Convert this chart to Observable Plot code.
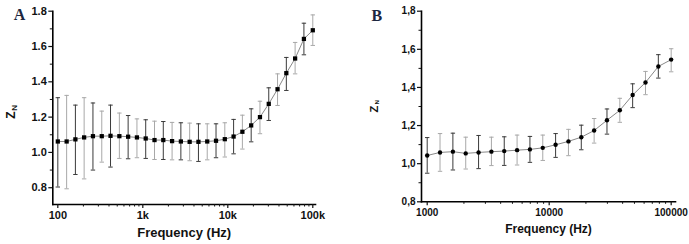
<!DOCTYPE html>
<html>
<head>
<meta charset="utf-8">
<script src="https://cdn.jsdelivr.net/npm/d3@7"></script>
<script src="https://cdn.jsdelivr.net/npm/@observablehq/plot@0.6"></script>
<style>
  html, body { margin: 0; padding: 0; background: #fff; }
  #wrap { display: flex; width: 689px; height: 244px; overflow: hidden; }
</style>
</head>
<body>
<div id="wrap"></div>
<script>
// ---- Panel A data ----
const freqA = [100, 127, 161, 204, 259, 329, 417, 530, 672, 853, 1082, 1373, 1742, 2210, 2804,
  3558, 4514, 5727, 7267, 9221, 11700, 14846, 18837, 23901, 30327, 38481, 48827, 61954, 78611, 100000];
const zA = [1.062, 1.062, 1.074, 1.085, 1.092, 1.092, 1.094, 1.092, 1.089, 1.085, 1.079, 1.070, 1.070,
  1.064, 1.062, 1.060, 1.060, 1.062, 1.066, 1.075, 1.090, 1.117, 1.153, 1.200, 1.275, 1.358, 1.449,
  1.532, 1.643, 1.692];
const hiA = [1.310, 1.323, 1.268, 1.310, 1.280, 1.234, 1.268, 1.223, 1.209, 1.190, 1.185, 1.177, 1.175,
  1.170, 1.168, 1.166, 1.162, 1.162, 1.162, 1.168, 1.187, 1.211, 1.247, 1.290, 1.366, 1.445, 1.538,
  1.623, 1.732, 1.779];
const loA = [0.804, 0.794, 0.875, 0.850, 0.900, 0.945, 0.917, 0.966, 0.964, 0.970, 0.966, 0.960, 0.960,
  0.958, 0.958, 0.953, 0.949, 0.958, 0.970, 0.974, 0.992, 1.019, 1.060, 1.106, 1.181, 1.266, 1.351,
  1.445, 1.553, 1.606];
const xTicksA = [100, 1000, 10000, 100000];
const xTickLabelsA = ["100", "1k", "10k", "100k"];
const yTicksA = [0.8, 1.0, 1.2, 1.4, 1.6, 1.8];
const yTickLabelsA = ["0.8", "1.0", "1.2", "1.4", "1.6", "1.8"];
const yMinorA = [0.9, 1.1, 1.3, 1.5, 1.7];

// ---- Panel B data ----
const freqB = [1000, 1274, 1624, 2069, 2637, 3360, 4281, 5456, 6952, 8859, 11288, 14384, 18330, 23357,
  29764, 37927, 48329, 61585, 78476, 100000];
const zB = [1.043, 1.059, 1.063, 1.054, 1.059, 1.063, 1.066, 1.071, 1.075, 1.083, 1.099, 1.117, 1.139,
  1.174, 1.228, 1.280, 1.360, 1.426, 1.510, 1.546];
const hiB = [1.137, 1.158, 1.160, 1.139, 1.148, 1.139, 1.141, 1.150, 1.143, 1.150, 1.158, 1.180, 1.202,
  1.237, 1.287, 1.343, 1.419, 1.484, 1.572, 1.603];
const loB = [0.950, 0.960, 0.967, 0.972, 0.974, 0.990, 0.991, 0.993, 1.007, 1.017, 1.033, 1.042, 1.073,
  1.108, 1.155, 1.217, 1.294, 1.362, 1.449, 1.482];
const xTicksB = [1000, 10000, 100000];
const xTickLabelsB = ["1000", "10000", "100000"];
const yTicksB = [0.8, 1.0, 1.2, 1.4, 1.6, 1.8];
const yTickLabelsB = ["0,8", "1,0", "1,2", "1,4", "1,6", "1,8"];
const yMinorB = [0.9, 1.1, 1.3, 1.5, 1.7];

const minorDecades = [2, 3, 4, 5, 6, 7, 8, 9];

const capSymbol = {
  draw(context) {
    context.moveTo(-2.2, 0);
    context.lineTo(2.2, 0);
  }
};

function makePanel(cfg) {
  const data = cfg.freq.map((f, i) => ({f, z: cfg.z[i], hi: cfg.hi[i], lo: cfg.lo[i], i}));
  const xMinor = [];
  for (const t of cfg.xTicks.slice(0, -1)) for (const m of minorDecades) xMinor.push(t * m);
  const xLab = new Map(cfg.xTicks.map((t, i) => [t, cfg.xLabels[i]]));
  const yLab = new Map(cfg.yTicks.map((t, i) => [t, cfg.yLabels[i]]));
  const barColor = d => d.i % 2 ? "#a8a8a8" : "#3a3a3a";
  return Plot.plot({
    width: cfg.width,
    height: 244,
    marginLeft: cfg.mL,
    marginRight: cfg.mR,
    marginTop: cfg.mT,
    marginBottom: cfg.mB,
    style: {fontFamily: "Liberation Sans, Arial, sans-serif", fontWeight: "bold", fontSize: cfg.fs + "px", color: "#111", background: "#fff"},
    x: {type: "log", domain: cfg.xDomain},
    y: {domain: cfg.yDomain},
    marks: [
      Plot.frame({anchor: "left", stroke: "#000", strokeWidth: 1.6}),
      Plot.frame({anchor: "bottom", stroke: "#000", strokeWidth: 1.6}),
      Plot.axisX({ticks: cfg.xTicks, tickSize: 4, tickPadding: 3, tickFormat: d => xLab.get(d), label: null, strokeWidth: 1.2}),
      Plot.axisX({ticks: xMinor, tickSize: 2.5, tickFormat: () => "", label: null}),
      Plot.axisY({ticks: cfg.yTicks, tickSize: 4, tickPadding: 2, tickFormat: d => yLab.get(d), label: null, strokeWidth: 1.2}),
      Plot.axisY({ticks: cfg.yMinor, tickSize: 2.5, tickFormat: () => "", label: null}),
      Plot.ruleX(data, {x: "f", y1: "lo", y2: "hi", stroke: barColor, strokeWidth: 1}),
      Plot.dot(data, {x: "f", y: "hi", symbol: capSymbol, stroke: barColor, fill: "none", strokeWidth: 1}),
      Plot.dot(data, {x: "f", y: "lo", symbol: capSymbol, stroke: barColor, fill: "none", strokeWidth: 1}),
      Plot.line(data, {x: "f", y: "z", stroke: "#7a7a7a", strokeWidth: 0.9}),
      Plot.dot(data, {x: "f", y: "z", symbol: cfg.symbol, r: cfg.r, fill: "#000", stroke: "none"}),
      Plot.text([cfg.xTitle], {frameAnchor: "bottom", dy: cfg.xTitleDy, fontSize: cfg.titleFs, fontWeight: "bold", fill: "#111"}),
      Plot.text(["Z"], {frameAnchor: "left", dx: cfg.zDx, dy: cfg.zDy, rotate: -90, fontSize: cfg.zFs, fontWeight: "bold", fill: "#111"}),
      Plot.text(["N"], {frameAnchor: "left", dx: cfg.nDx, dy: cfg.nDy, rotate: -90, fontSize: cfg.nFs, fontWeight: "bold", fill: "#111"}),
      Plot.text([cfg.letter], {frameAnchor: "top-left", dx: cfg.lDx, dy: cfg.lDy, fontSize: 16, fontWeight: "bold", fontFamily: "Liberation Serif, Times New Roman, serif", fill: "#1c2740"})
    ]
  });
}

const wrap = document.getElementById("wrap");
wrap.appendChild(makePanel({
  width: 345, mL: 52.3, mR: 30, mT: 10.7, mB: 40,
  freq: freqA, z: zA, hi: hiA, lo: loA,
  xTicks: xTicksA, xLabels: xTickLabelsA, yTicks: yTicksA, yLabels: yTickLabelsA, yMinor: yMinorA,
  xDomain: [87.3, 107600], yDomain: [0.705, 1.8],
  symbol: "square", r: 2.4, fs: 11,
  xTitle: "Frequency (Hz)", xTitleDy: 32.5, titleFs: 13,
  zDx: -42, zDy: 11, zFs: 12, nDx: -38, nDy: 3, nFs: 8,
  letter: "A", lDx: -39, lDy: -2.7
}));
wrap.appendChild(makePanel({
  width: 344, mL: 76, mR: 14, mT: 10.7, mB: 42.7,
  freq: freqB, z: zB, hi: hiB, lo: loB,
  xTicks: xTicksB, xLabels: xTickLabelsB, yTicks: yTicksB, yLabels: yTickLabelsB, yMinor: yMinorB,
  xDomain: [898, 108500], yDomain: [0.8, 1.8],
  symbol: "circle", r: 2.2, fs: 10,
  xTitle: "Frequency (Hz)", xTitleDy: 31, titleFs: 12,
  zDx: -47.5, zDy: 6, zFs: 11, nDx: -44, nDy: -2, nFs: 6,
  letter: "B", lDx: -50, lDy: -1.7
}));
</script>
</body>
</html>
